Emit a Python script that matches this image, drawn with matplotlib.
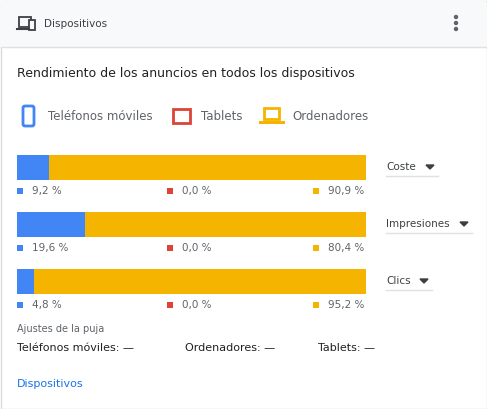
import matplotlib
matplotlib.use("Agg")
import matplotlib.pyplot as plt
from matplotlib.patches import Rectangle, FancyBboxPatch

metrics = ["Coste", "Impresiones", "Clics"]
mobile = [9.2, 19.6, 4.8]
tablet = [0.0, 0.0, 0.0]
desktop = [90.9, 80.4, 95.2]
labels_m = ["9,2 %", "19,6 %", "4,8 %"]
labels_t = ["0,0 %", "0,0 %", "0,0 %"]
labels_d = ["90,9 %", "80,4 %", "95,2 %"]
legend_names = ["Teléfonos móviles", "Tablets", "Ordenadores"]

BLUE, RED, YEL = "#4285f4", "#db4437", "#f4b400"
GREY = "#5f6368"
W, H = 487, 409
fig = plt.figure(figsize=(W/100, H/100), dpi=100)
bg = fig.add_axes([0, 0, 1, 1])
bg.set_xlim(0, W); bg.set_ylim(H, 0); bg.axis("off")
bg.add_patch(Rectangle((0.5, 0.5), W-1, H-1, fc="white", ec="#dadce0", lw=1))
bg.add_patch(Rectangle((1, 1), W-2, 46, fc="#f8f9fa", ec="none"))
bg.plot([1, W-1], [47, 47], color="#e0e0e0", lw=1)
bg.add_patch(Rectangle((19, 17), 12, 10, fc="none", ec="#3c4043", lw=1.3))
bg.add_patch(Rectangle((29, 20), 6, 10, fc="#f8f9fa", ec="#3c4043", lw=1.3))
bg.plot([17, 29], [29, 29], color="#3c4043", lw=1.5)
bg.text(44, 24, "Dispositivos", fontsize=7.5, color="#3c4043", va="center")
for yy in (17, 23, 29):
    bg.add_patch(plt.Circle((456, yy), 1.5, color=GREY))
bg.text(17, 74, "Rendimiento de los anuncios en todos los dispositivos", fontsize=9,
        color="#202124", va="center", fontweight="medium")
bg.add_patch(FancyBboxPatch((23, 106), 11, 20, boxstyle="round,pad=0,rounding_size=2", fc="none", ec=BLUE, lw=2))
bg.add_patch(Rectangle((173, 109), 17, 14, fc="none", ec=RED, lw=2))
bg.add_patch(Rectangle((264, 108), 15, 11, fc="none", ec=YEL, lw=2))
bg.plot([260, 283], [122, 122], color=YEL, lw=2.2)
for x, t in zip((48, 201, 292), legend_names):
    bg.text(x, 116, t, fontsize=8.5, color=GREY, va="center")

ax = fig.add_axes([17/W, 1-300/H, 349/W, 150/H])
ypos = [0, 1, 2]
hgt = 25/57
ax.barh(ypos, mobile, height=hgt, color=BLUE)
ax.barh(ypos, tablet, left=mobile, height=hgt, color=RED)
ax.barh(ypos, desktop, left=[m+t for m, t in zip(mobile, tablet)], height=hgt, color=YEL)
ax.set_xlim(0, 100); ax.set_ylim(2 + 19/57, -17/57); ax.axis("off")

rows_y = [167, 224, 281]
for i, yb in enumerate(rows_y):
    yl = yb + 24
    for xs, c, t in ((19, BLUE, labels_m[i]), (169, RED, labels_t[i]), (315, YEL, labels_d[i])):
        bg.add_patch(Rectangle((xs-2.5, yl-3), 6, 6, fc=c, ec="none"))
        bg.text(xs+13, yl, t, fontsize=7.5, color=GREY, va="center")
    bg.text(386, yb, metrics[i], fontsize=7.5, color="#3c4043", va="center")
    ax_w = {0: 430, 1: 464, 2: 424}[i]
    bg.add_patch(plt.Polygon([[ax_w-4, yb-2], [ax_w+4, yb-2], [ax_w, yb+2]], color="#3c4043"))
    bg.plot([386, ax_w+8], [yb+9, yb+9], color="#e0e0e0", lw=1)

bg.text(17, 329, "Ajustes de la puja", fontsize=7, color=GREY, va="center")
for x, t in ((17, "Teléfonos móviles: —"), (185, "Ordenadores: —"), (318, "Tablets: —")):
    bg.text(x, 348, t, fontsize=8, color="#202124", va="center")
bg.text(17, 384, "Dispositivos", fontsize=8, color="#1a73e8", va="center", fontweight="medium")
fig.savefig("out.png", dpi=100)
